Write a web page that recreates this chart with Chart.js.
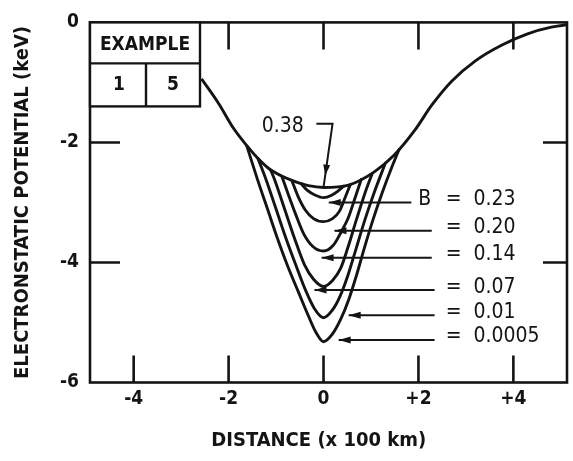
<!DOCTYPE html>
<html>
<head>
<meta charset="utf-8">
<style>
  html, body { margin: 0; padding: 0; background: #fff; }
  #wrap { width: 573px; height: 461px; position: relative; }
</style>
<script src="https://cdn.jsdelivr.net/npm/chart.js@4.4.1/dist/chart.umd.min.js"></script>
</head>
<body>
<div id="wrap"><canvas id="chart" width="573" height="461"></canvas></div>
<script>
// Electrostatic potential well versus distance for several values of B.

const xTicks = [-4, -2, 0, 2, 4];
const xTickLabels = ['-4', '-2', '0', '+2', '+4'];
const yTicks = [-6, -4, -2, 0];
const yTickLabels = ['-6', '-4', '-2', '0'];

// B = 0.38 (outer envelope)
const x038 = [-2.57, -2.21, -1.90, -1.62, -1.39, -1.16, -0.88, -0.61, -0.32, 0, 0.53, 1.07, 1.49, 1.92, 2.28, 2.70, 3.20, 3.75, 4.30, 4.80, 5.13];
const y038 = [-0.94, -1.35, -1.76, -2.05, -2.26, -2.43, -2.56, -2.65, -2.72, -2.75, -2.71, -2.49, -2.21, -1.80, -1.38, -0.98, -0.64, -0.38, -0.19, -0.08, -0.04];

// B = 0.23
const x023 = [-0.48, -0.34, -0.17, 0, 0.17, 0.32, 0.44];
const y023 = [-2.68, -2.80, -2.88, -2.92, -2.88, -2.80, -2.72];

// B = 0.20
const x020 = [-0.67, -0.53, -0.38, -0.21, 0, 0.19, 0.34, 0.46, 0.57];
const y020 = [-2.63, -2.91, -3.13, -3.27, -3.32, -3.27, -3.14, -2.91, -2.69];

// B = 0.14
const x014 = [-0.88, -0.74, -0.59, -0.42, -0.23, 0, 0.21, 0.38, 0.52, 0.65, 0.80];
const y014 = [-2.56, -2.87, -3.19, -3.52, -3.73, -3.81, -3.71, -3.48, -3.26, -2.96, -2.60];

// B = 0.07
const x007 = [-1.12, -1.03, -0.82, -0.61, -0.40, -0.21, 0, 0.19, 0.36, 0.51, 0.70, 0.88, 1.03];
const y007 = [-2.45, -2.62, -3.11, -3.60, -4.04, -4.28, -4.40, -4.30, -4.10, -3.76, -3.27, -2.83, -2.51];

// B = 0.01
const x001 = [-1.39, -1.21, -1.00, -0.79, -0.58, -0.38, -0.19, 0, 0.19, 0.35, 0.52, 0.69, 0.88, 1.07, 1.31];
const y001 = [-2.25, -2.62, -3.11, -3.60, -4.05, -4.46, -4.77, -4.92, -4.79, -4.56, -4.20, -3.76, -3.27, -2.83, -2.33];

// B = 0.0005
const x00005 = [-1.62, -1.39, -1.18, -0.97, -0.76, -0.53, -0.34, -0.17, 0, 0.19, 0.36, 0.53, 0.70, 0.86, 1.05, 1.24, 1.43, 1.60];
const y00005 = [-2.05, -2.62, -3.11, -3.60, -4.05, -4.49, -4.85, -5.15, -5.32, -5.19, -4.95, -4.62, -4.20, -3.76, -3.27, -2.83, -2.43, -2.10];

const seriesNames = ['0.38', '0.23', '0.20', '0.14', '0.07', '0.01', '0.0005'];
const seriesX = [x038, x023, x020, x014, x007, x001, x00005];
const seriesY = [y038, y023, y020, y014, y007, y001, y00005];

const ink = '#141414';
const FONT = "'DejaVu Sans Condensed', 'DejaVu Sans', sans-serif";

// Callout leaders for the B values (data coordinates of each leader line)
const bCallouts = [
  { name: '0.23',   y: -3.00, from: 0.11,  to: 1.85, prefix: true },
  { name: '0.20',   y: -3.47, from: 0.23,  to: 2.28 },
  { name: '0.14',   y: -3.92, from: -0.04, to: 2.28 },
  { name: '0.07',   y: -4.46, from: -0.19, to: 2.34 },
  { name: '0.01',   y: -4.88, from: 0.53,  to: 2.34 },
  { name: '0.0005', y: -5.29, from: 0.32,  to: 2.34 }
];
const envelopeCallout = { name: '0.38', textX: -0.86, textY: -1.74, elbowFrom: -0.15, elbowTo: 0.19, elbowY: -1.69 };

const datasets = seriesNames.map((name, i) => ({
  label: 'B = ' + name,
  data: seriesX[i].map((x, j) => ({ x, y: seriesY[i][j] })),
  showLine: true,
  borderColor: ink,
  borderWidth: 2.9,
  pointRadius: 0,
  fill: false,
  cubicInterpolationMode: 'monotone'
}));

function arrowHead(ctx, x, y, dx, dy, len, half) {
  const nx = -dy, ny = dx;
  ctx.beginPath();
  ctx.moveTo(x, y);
  ctx.lineTo(x - dx * len + nx * half, y - dy * len + ny * half);
  ctx.lineTo(x - dx * len - nx * half, y - dy * len - ny * half);
  ctx.closePath();
  ctx.fill();
}

const decor = {
  id: 'decor',
  afterDatasetsDraw(chart) {
    const { ctx, chartArea: a, scales: { x, y } } = chart;
    ctx.save();
    ctx.strokeStyle = ink;
    ctx.fillStyle = ink;
    ctx.lineCap = 'butt';

    // frame with inward tick marks
    ctx.lineWidth = 2.6;
    ctx.strokeRect(a.left, a.top, a.right - a.left, a.bottom - a.top);
    const tick = 27;
    ctx.beginPath();
    xTicks.forEach(v => {
      const px = x.getPixelForValue(v);
      ctx.moveTo(px, a.bottom); ctx.lineTo(px, a.bottom - tick);
      ctx.moveTo(px, a.top); ctx.lineTo(px, a.top + tick);
    });
    yTicks.filter(v => v > y.min && v < y.max).forEach(v => {
      const py = y.getPixelForValue(v);
      ctx.moveTo(a.left, py); ctx.lineTo(a.left + tick + 3, py);
      ctx.moveTo(a.right, py); ctx.lineTo(a.right - tick + 3, py);
    });
    ctx.stroke();

    // EXAMPLE key box
    const bx = a.left, by = a.top, bw = 110, bh = 84, mid = 41, col = 56;
    ctx.fillStyle = '#fff';
    ctx.fillRect(bx, by, bw, bh);
    ctx.fillStyle = ink;
    ctx.lineWidth = 2.4;
    ctx.strokeRect(bx, by, bw, bh);
    ctx.beginPath();
    ctx.moveTo(bx, by + mid); ctx.lineTo(bx + bw, by + mid);
    ctx.moveTo(bx + col, by + mid); ctx.lineTo(bx + col, by + bh);
    ctx.stroke();
    ctx.textAlign = 'center';
    ctx.textBaseline = 'middle';
    ctx.font = 'bold 19px ' + FONT;
    ctx.fillText('EXAMPLE', bx + bw / 2, by + mid / 2 + 2);
    ctx.fillText('1', bx + col / 2 + 1, by + mid + (bh - mid) / 2);
    ctx.fillText('5', bx + col + (bw - col) / 2, by + mid + (bh - mid) / 2);

    // envelope callout
    ctx.lineWidth = 2;
    ctx.font = '21px ' + FONT;
    ctx.textAlign = 'center';
    ctx.fillText(envelopeCallout.name, x.getPixelForValue(envelopeCallout.textX), y.getPixelForValue(envelopeCallout.textY));
    const ex0 = x.getPixelForValue(envelopeCallout.elbowFrom);
    const ex1 = x.getPixelForValue(envelopeCallout.elbowTo);
    const ey = y.getPixelForValue(envelopeCallout.elbowY);
    const tipX = x.getPixelForValue(0);
    const tipY = y.getPixelForValue(Math.min(...y038));
    ctx.beginPath();
    ctx.moveTo(ex0, ey); ctx.lineTo(ex1, ey); ctx.lineTo(tipX, tipY);
    ctx.stroke();
    {
      const dx = tipX - ex1, dy = tipY - ey, L = Math.hypot(dx, dy);
      arrowHead(ctx, tipX - dx / L * 12, tipY - dy / L * 12, dx / L, dy / L, 11, 3.5);
    }

    // B callouts
    bCallouts.forEach(c => {
      const py = y.getPixelForValue(c.y);
      const x0 = x.getPixelForValue(c.from);
      const x1 = x.getPixelForValue(c.to);
      ctx.beginPath();
      ctx.moveTo(x0, py); ctx.lineTo(x1, py);
      ctx.stroke();
      arrowHead(ctx, x0, py, -1, 0, 12, 3.5);
      ctx.textBaseline = 'middle';
      if (c.prefix) {
        ctx.textAlign = 'center';
        ctx.fillText('B', x.getPixelForValue(2.13), py - 3);
      }
      ctx.textAlign = 'center';
      ctx.fillText('=', x.getPixelForValue(2.74), py - 3);
      ctx.textAlign = 'left';
      ctx.fillText(c.name, x.getPixelForValue(3.16), py - 3);
    });

    // horizontal axis title
    ctx.font = 'bold 20px ' + FONT;
    ctx.textAlign = 'center';
    ctx.textBaseline = 'middle';
    ctx.fillText('DISTANCE (x 100 km)', x.getPixelForValue(-0.1), 441);

    ctx.restore();
  }
};

new Chart(document.getElementById('chart'), {
  type: 'scatter',
  data: { datasets },
  options: {
    responsive: false,
    animation: false,
    devicePixelRatio: 1,
    layout: { padding: { left: 0, right: 6, top: 14, bottom: 0 } },
    plugins: { legend: { display: false }, tooltip: { enabled: false } },
    scales: {
      x: {
        type: 'linear',
        min: -4.92,
        max: 5.13,
        grid: { display: false, drawTicks: false },
        border: { display: false },
        afterBuildTicks: s => { s.ticks = xTicks.map(v => ({ value: v })); },
        afterFit: s => { s.height = 78.5; },
        ticks: {
          color: ink,
          padding: 5,
          maxRotation: 0,
          font: { family: FONT, size: 19, weight: 'bold' },
          callback: v => { const i = xTicks.indexOf(v); return i < 0 ? '' : xTickLabels[i]; }
        }
      },
      y: {
        type: 'linear',
        min: -6,
        max: 0,
        grid: { display: false, drawTicks: false },
        border: { display: false },
        afterBuildTicks: s => { s.ticks = yTicks.map(v => ({ value: v })); },
        afterFit: s => { s.width = 90; },
        ticks: {
          color: ink,
          padding: 11,
          font: { family: FONT, size: 19, weight: 'bold' },
          callback: v => { const i = yTicks.indexOf(v); return i < 0 ? '' : yTickLabels[i]; }
        },
        title: {
          display: true,
          text: 'ELECTRONSTATIC POTENTIAL (keV)',
          color: ink,
          font: { family: FONT, size: 20, weight: 'bold' },
          padding: { top: 11, bottom: 0 }
        }
      }
    }
  },
  plugins: [decor]
});
</script>
</body>
</html>
